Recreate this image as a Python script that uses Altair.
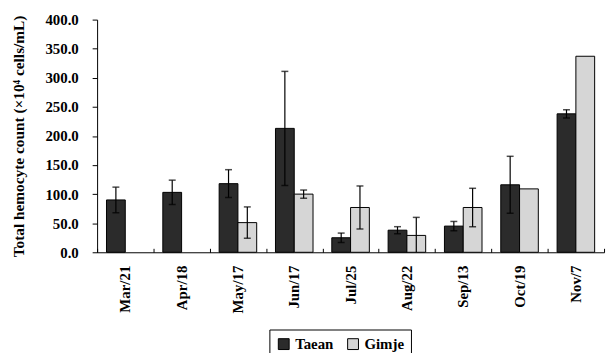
import altair as alt
import pandas as pd

dates = ["Mar/21", "Apr/18", "May/17", "Jun/17", "Jul/25", "Aug/22", "Sep/13", "Oct/19", "Nov/7"]
sites = ["Taean", "Gimje"]
taean = [90, 103, 118, 213, 25, 38, 45, 116, 238]
taean_err = [22, 21, 24, 98, 8, 6, 8, 49, 7]
gimje = [None, None, 51, 100, 77, 29, 77, 109, 337]
gimje_err = [None, None, 27, 7, 37, 31, 33, None, None]
y_ticks = [0, 50, 100, 150, 200, 250, 300, 350, 400]

rows = []
for d, v, e in zip(dates, taean, taean_err):
    rows.append({"date": d, "site": "Taean", "value": v, "err": e})
for d, v, e in zip(dates, gimje, gimje_err):
    rows.append({"date": d, "site": "Gimje", "value": v, "err": e})
df = pd.DataFrame(rows)
bars_df = df.dropna(subset=["value"])
err_df = df.dropna(subset=["err"]).copy()
err_df["lo"] = err_df["value"] - err_df["err"]
err_df["hi"] = err_df["value"] + err_df["err"]

FONT = "Liberation Serif"
W, H = 512, 235
Y_TITLE = "Total hemocyte count (×10⁴ cells/mL)"

x_scale = alt.Scale(domain=dates, paddingInner=0, paddingOuter=0)
off_scale = alt.Scale(domain=sites, paddingInner=0, paddingOuter=0.5)
y_scale = alt.Scale(domain=[0, 400], nice=False)

y_axis = alt.Axis(values=y_ticks, format=".1f", tickSize=5, tickColor="black",
                  domainColor="black", labelPadding=14, grid=False,
                  labelFont=FONT, labelFontWeight="bold", labelFontSize=15,
                  labelColor="black", titleFont=FONT, titleFontWeight="bold",
                  titleFontSize=15.5, titleColor="black", titlePadding=19)

x_bottom = alt.X("date:N", sort=dates, scale=x_scale, title=None,
                 axis=alt.Axis(labelAngle=-90, labelAlign="right", labelBaseline="middle",
                               labelPadding=13, ticks=False, domainColor="black", grid=False,
                               labelFont=FONT, labelFontWeight="bold", labelFontSize=15,
                               labelColor="black"))
x_top = alt.X("date:N", sort=dates, scale=x_scale, title=None,
              axis=alt.Axis(orient="top", offset=-H, labels=False, domain=False, grid=False,
                            ticks=True, tickBand="extent", tickSize=4, tickColor="black"))
x_none = alt.X("date:N", sort=dates, scale=x_scale, axis=None)
xo = alt.XOffset("site:N", scale=off_scale)

bars = alt.Chart(bars_df).mark_bar(stroke="black", strokeWidth=1).encode(
    x=x_bottom, xOffset=xo,
    y=alt.Y("value:Q", scale=y_scale, title=Y_TITLE, axis=y_axis),
    fill=alt.Fill("site:N", scale=alt.Scale(domain=sites, range=["#2b2b2b", "#d6d6d6"]),
                  legend=alt.Legend(title=None, orient="none", legendX=174, legendY=313,
                                    direction="horizontal", symbolType="square",
                                    symbolSize=120, symbolStrokeColor="black",
                                    symbolStrokeWidth=1, strokeColor="black", padding=7,
                                    columnPadding=12, labelFont=FONT, labelFontWeight="bold",
                                    labelFontSize=15, labelColor="black")),
)

rules = alt.Chart(err_df).mark_rule(color="black", strokeWidth=1.2, clip=True).encode(
    x=x_top, xOffset=xo,
    y=alt.Y("lo:Q", scale=y_scale, title=Y_TITLE, axis=y_axis), y2="hi:Q")
cap_hi = alt.Chart(err_df).mark_tick(color="black", size=7, thickness=1.5).encode(
    x=x_none, xOffset=xo, y=alt.Y("hi:Q", scale=y_scale, title=Y_TITLE, axis=y_axis))
cap_lo = alt.Chart(err_df).mark_tick(color="black", size=7, thickness=1.5, clip=True).encode(
    x=x_none, xOffset=xo, y=alt.Y("lo:Q", scale=y_scale, title=Y_TITLE, axis=y_axis))

chart = alt.layer(bars, rules, cap_hi, cap_lo).resolve_axis(x="independent").properties(
    width=W, height=H,
    background="white",
    autosize=alt.AutoSizeParams(type="none"),
    padding={"left": 90, "top": 10, "right": 4, "bottom": 100},
).configure_view(stroke=None, strokeWidth=0).configure_axis(grid=False)

chart.save("out.html", embed_options={"renderer": "svg", "actions": False})
